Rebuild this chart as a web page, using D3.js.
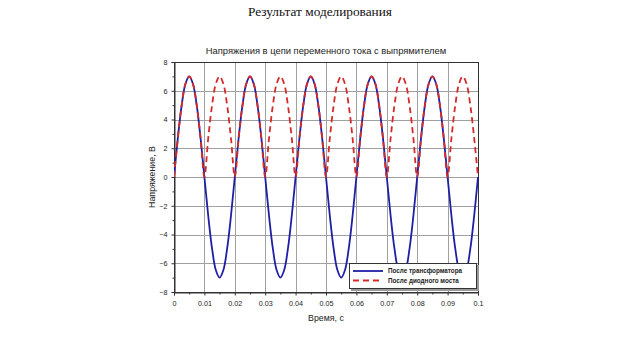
<!DOCTYPE html>
<html>
<head>
<meta charset="utf-8">
<script src="https://cdn.jsdelivr.net/npm/d3@7"></script>
<style>
  html, body { margin: 0; padding: 0; background: #fff; }
  svg { display: block; }
</style>
</head>
<body>
<svg id="chart" width="640" height="360"></svg>
<script>
// ---- Data ----
const time = [
  0, 0.00125, 0.0025, 0.00375, 0.005, 0.00625, 0.0075, 0.00875,
  0.01, 0.01125, 0.0125, 0.01375, 0.015, 0.01625, 0.0175, 0.01875,
  0.02, 0.02125, 0.0225, 0.02375, 0.025, 0.02625, 0.0275, 0.02875,
  0.03, 0.03125, 0.0325, 0.03375, 0.035, 0.03625, 0.0375, 0.03875,
  0.04, 0.04125, 0.0425, 0.04375, 0.045, 0.04625, 0.0475, 0.04875,
  0.05, 0.05125, 0.0525, 0.05375, 0.055, 0.05625, 0.0575, 0.05875,
  0.06, 0.06125, 0.0625, 0.06375, 0.065, 0.06625, 0.0675, 0.06875,
  0.07, 0.07125, 0.0725, 0.07375, 0.075, 0.07625, 0.0775, 0.07875,
  0.08, 0.08125, 0.0825, 0.08375, 0.085, 0.08625, 0.0875, 0.08875,
  0.09, 0.09125, 0.0925, 0.09375, 0.095, 0.09625, 0.0975, 0.09875,
  0.1
];
const afterTransformer = [
  0, 2.68, 4.95, 6.47, 7, 6.47, 4.95, 2.68,
  0, -2.68, -4.95, -6.47, -7, -6.47, -4.95, -2.68,
  0, 2.68, 4.95, 6.47, 7, 6.47, 4.95, 2.68,
  0, -2.68, -4.95, -6.47, -7, -6.47, -4.95, -2.68,
  0, 2.68, 4.95, 6.47, 7, 6.47, 4.95, 2.68,
  0, -2.68, -4.95, -6.47, -7, -6.47, -4.95, -2.68,
  0, 2.68, 4.95, 6.47, 7, 6.47, 4.95, 2.68,
  0, -2.68, -4.95, -6.47, -7, -6.47, -4.95, -2.68,
  0, 2.68, 4.95, 6.47, 7, 6.47, 4.95, 2.68,
  0, -2.68, -4.95, -6.47, -7, -6.47, -4.95, -2.68,
  0
];
const afterBridge = [
  0, 2.68, 4.95, 6.47, 7, 6.47, 4.95, 2.68,
  0, 2.68, 4.95, 6.47, 7, 6.47, 4.95, 2.68,
  0, 2.68, 4.95, 6.47, 7, 6.47, 4.95, 2.68,
  0, 2.68, 4.95, 6.47, 7, 6.47, 4.95, 2.68,
  0, 2.68, 4.95, 6.47, 7, 6.47, 4.95, 2.68,
  0, 2.68, 4.95, 6.47, 7, 6.47, 4.95, 2.68,
  0, 2.68, 4.95, 6.47, 7, 6.47, 4.95, 2.68,
  0, 2.68, 4.95, 6.47, 7, 6.47, 4.95, 2.68,
  0, 2.68, 4.95, 6.47, 7, 6.47, 4.95, 2.68,
  0, 2.68, 4.95, 6.47, 7, 6.47, 4.95, 2.68,
  0
];
const xTicks = [0, 0.01, 0.02, 0.03, 0.04, 0.05, 0.06, 0.07, 0.08, 0.09, 0.1];
const xTickLabels = ["0", "0.01", "0.02", "0.03", "0.04", "0.05", "0.06", "0.07", "0.08", "0.09", "0.1"];
const xMinorTicks = [0.005, 0.015, 0.025, 0.035, 0.045, 0.055, 0.065, 0.075, 0.085, 0.095];
const yTicks = [-8, -6, -4, -2, 0, 2, 4, 6, 8];
const yMinorTicks = [-7, -5, -3, -1, 1, 3, 5, 7];
const seriesNames = ["После трансформатора", "После диодного моста"];
const pageTitle = "Результат моделирования";
const chartTitle = "Напряжения в цепи переменного тока с выпрямителем";
const xLabel = "Время, с";
const yLabel = "Напряжение, В";

// ---- Layout ----
const svg = d3.select("#chart");
const pLeft = 174, pRight = 478, pTop = 62, pBottom = 292;
const x = d3.scaleLinear().domain([0, 0.1]).range([pLeft, pRight]);
const y = d3.scaleLinear().domain([-8, 8]).range([pBottom, pTop]);

const fontSans = "Arial, 'Liberation Sans', sans-serif";

svg.append("text")
  .attr("x", 320).attr("y", 15.5)
  .attr("text-anchor", "middle")
  .attr("font-family", "'Times New Roman', 'Liberation Serif', serif")
  .attr("font-size", 13.3)
  .attr("fill", "#111")
  .text(pageTitle);

svg.append("text")
  .attr("x", 326).attr("y", 53.5)
  .attr("text-anchor", "middle")
  .attr("font-family", fontSans)
  .attr("font-size", 9.4)
  .attr("fill", "#222")
  .text(chartTitle);

// grid
const grid = svg.append("g").attr("stroke", "#a0a0a0").attr("stroke-width", 1);
grid.selectAll("line.gx").data(xTicks.slice(1, -1)).join("line")
  .attr("x1", d => Math.round(x(d)) + 0.5).attr("x2", d => Math.round(x(d)) + 0.5)
  .attr("y1", pTop).attr("y2", pBottom);
grid.selectAll("line.gy").data(yTicks.slice(1, -1)).join("line")
  .attr("y1", d => Math.round(y(d)) + 0.5).attr("y2", d => Math.round(y(d)) + 0.5)
  .attr("x1", pLeft).attr("x2", pRight);

// frame
svg.append("rect")
  .attr("x", pLeft + 0.5).attr("y", pTop + 0.5)
  .attr("width", pRight - pLeft).attr("height", pBottom - pTop)
  .attr("fill", "none").attr("stroke", "#333").attr("stroke-width", 1);

// axes
const xAxis = d3.axisBottom(x).tickValues(xTicks)
  .tickFormat((d, i) => xTickLabels[i]).tickSize(3).tickPadding(5);
const gx = svg.append("g").attr("transform", `translate(0,${pBottom + 0.5})`).call(xAxis);
gx.select(".domain").attr("stroke", "#333");
gx.selectAll(".tick line").attr("stroke", "#333");
gx.selectAll("text").attr("font-family", fontSans).attr("font-size", 7.2).attr("fill", "#222");
const gxm = svg.append("g").attr("transform", `translate(0,${pBottom + 0.5})`)
  .call(d3.axisBottom(x).tickValues(xMinorTicks).tickSize(2).tickFormat(""));
gxm.select(".domain").remove();
gxm.selectAll(".tick line").attr("stroke", "#333");

const yAxis = d3.axisLeft(y).tickValues(yTicks).tickSize(3).tickPadding(4);
const gy = svg.append("g").attr("transform", `translate(${pLeft + 0.5},0)`).call(yAxis);
gy.select(".domain").attr("stroke", "#333");
gy.selectAll(".tick line").attr("stroke", "#333");
gy.selectAll("text").attr("font-family", fontSans).attr("font-size", 7.2).attr("fill", "#222");
const gym = svg.append("g").attr("transform", `translate(${pLeft + 0.5},0)`)
  .call(d3.axisLeft(y).tickValues(yMinorTicks).tickSize(2).tickFormat(""));
gym.select(".domain").remove();
gym.selectAll(".tick line").attr("stroke", "#333");

// axis labels
svg.append("text")
  .attr("x", 326).attr("y", 321)
  .attr("text-anchor", "middle")
  .attr("font-family", fontSans).attr("font-size", 8.8).attr("fill", "#222")
  .text(xLabel);
svg.append("text")
  .attr("transform", `translate(155,${(pTop + pBottom) / 2}) rotate(-90)`)
  .attr("text-anchor", "middle")
  .attr("font-family", fontSans).attr("font-size", 8.8).attr("fill", "#222")
  .text(yLabel);

// lines
const pts1 = time.map((t, i) => [t, afterTransformer[i]]);
const pts2 = time.map((t, i) => [t, afterBridge[i]]);
const line = d3.line().x(d => x(d[0])).y(d => y(d[1])).curve(d3.curveCatmullRom.alpha(0.5));

svg.append("clipPath").attr("id", "plotclip")
  .append("rect").attr("x", pLeft).attr("y", pTop).attr("width", pRight - pLeft + 1).attr("height", pBottom - pTop + 1);

const plot = svg.append("g").attr("clip-path", "url(#plotclip)");
plot.append("path").datum(pts1)
  .attr("d", line).attr("fill", "none")
  .attr("stroke", "#1f1fa6").attr("stroke-width", 1.8);
plot.append("path").datum(pts2)
  .attr("d", line).attr("fill", "none")
  .attr("stroke", "#d42a2a").attr("stroke-width", 1.8)
  .attr("stroke-dasharray", "6,4");

// legend
const lg = svg.append("g");
lg.append("rect").attr("x", 351).attr("y", 265).attr("width", 128).attr("height", 26).attr("fill", "#999");
lg.append("rect").attr("x", 349.5).attr("y", 263.5).attr("width", 127).attr("height", 25)
  .attr("fill", "#fff").attr("stroke", "#333").attr("stroke-width", 1);
const legendColors = ["#1f1fa6", "#d42a2a"];
const legendDash = [null, "6,4"];
seriesNames.forEach((name, i) => {
  const ly = 271 + i * 9.5;
  lg.append("line").attr("x1", 353).attr("x2", 383).attr("y1", ly).attr("y2", ly)
    .attr("stroke", legendColors[i]).attr("stroke-width", 1.8)
    .attr("stroke-dasharray", legendDash[i]);
  lg.append("text").attr("x", 388).attr("y", ly + 2.3)
    .attr("font-family", fontSans).attr("font-size", 6.3).attr("font-weight", "bold")
    .attr("fill", "#222").text(name);
});
</script>
</body>
</html>
